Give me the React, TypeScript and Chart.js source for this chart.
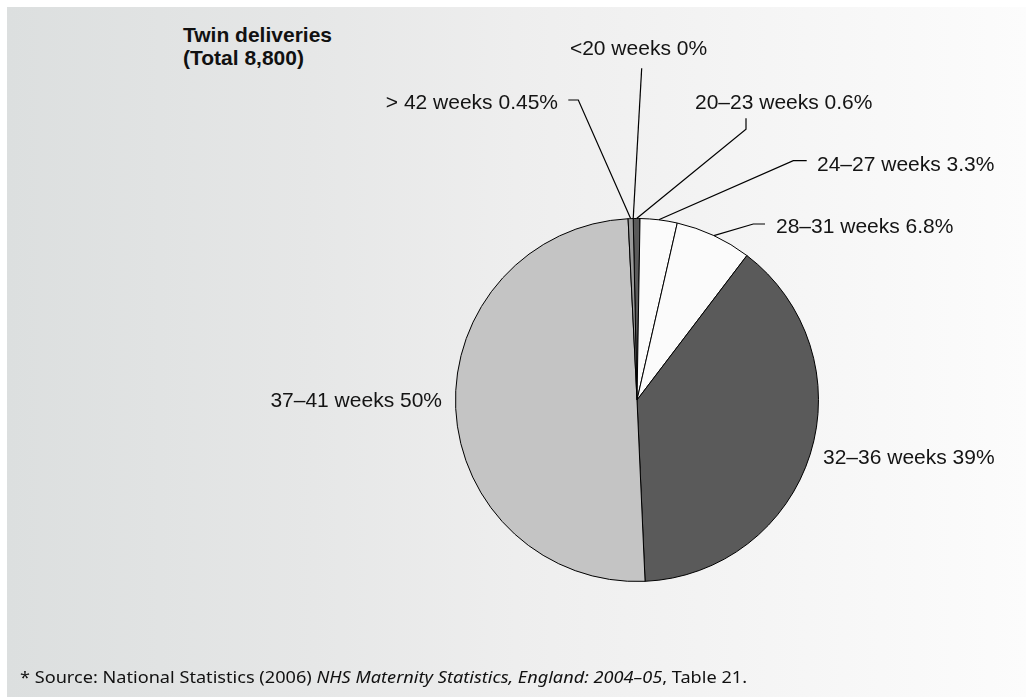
import React, { useEffect, useLayoutEffect, useRef } from "react";
import { Chart, registerables } from "chart.js";

Chart.register(...registerables);

const categories = ["<20 weeks", "20–23 weeks", "24–27 weeks", "28–31 weeks", "32–36 weeks", "37–41 weeks", "> 42 weeks"];
const percentages = [0, 0.6, 3.3, 6.8, 39, 50, 0.45];
const sliceColors = ["#5a5a5a", "#5a5a5a", "#fbfbfb", "#fbfbfb", "#5a5a5a", "#c4c4c4", "#9a9a9a"];
const titleLines = ["Twin deliveries", "(Total 8,800)"];

// label layout, relative to the pie centre (text anchor + optional elbow before the arc)
const labelLayout = [
  { dx: 1.5, dy: -345, align: "center", elbow: [[4.7, -331.7]] },
  { dx: 58, dy: -291, align: "left", elbow: [[109, -281.7], [109, -270.7]] },
  { dx: 180, dy: -229, align: "left", elbow: [[169.7, -239.3], [156.3, -239.3]] },
  { dx: 139, dy: -167, align: "left", elbow: [[128, -176], [116.3, -176]] },
  { dx: 186, dy: 64, align: "left", elbow: null },
  { dx: -195, dy: 7, align: "right", elbow: null },
  { dx: -79, dy: -291, align: "right", elbow: [[-68.7, -300], [-58.7, -300]] },
];

const labelPlugin = {
  id: "leaderLabels",
  afterDraw(chart: any) {
    const ctx = chart.ctx;
    const meta = chart.getDatasetMeta(0);
    ctx.save();
    ctx.font = "21px 'Liberation Sans', Arial, sans-serif";
    ctx.fillStyle = "#141414";
    ctx.strokeStyle = "#000";
    ctx.lineWidth = 1.2;
    ctx.textBaseline = "alphabetic";
    meta.data.forEach((arc: any, i: number) => {
      const p = arc.getProps(["x", "y", "startAngle", "endAngle", "outerRadius"], true);
      const lay = labelLayout[i];
      if (!lay) return;
      const mid = (p.startAngle + p.endAngle) / 2;
      const ax = p.x + Math.cos(mid) * p.outerRadius;
      const ay = p.y + Math.sin(mid) * p.outerRadius;
      if (lay.elbow) {
        ctx.beginPath();
        lay.elbow.forEach((pt: number[], k: number) => {
          const px = p.x + pt[0];
          const py = p.y + pt[1];
          if (k === 0) ctx.moveTo(px, py);
          else ctx.lineTo(px, py);
        });
        ctx.lineTo(ax, ay);
        ctx.stroke();
      }
      ctx.textAlign = lay.align as CanvasTextAlign;
      const txt = `${categories[i]} ${String(percentages[i])}%`;
      ctx.fillText(txt, p.x + lay.dx, p.y + lay.dy);
    });
    ctx.restore();
  },
};

export default function App() {
  const canvasRef = useRef<HTMLCanvasElement | null>(null);
  const footRef = useRef<HTMLSpanElement | null>(null);

  useLayoutEffect(() => {
    const el = footRef.current;
    if (el) {
      el.style.transform = "none";
      const w = el.getBoundingClientRect().width;
      if (w > 0) el.style.transform = `scaleX(${727 / w})`;
    }
  }, []);

  useEffect(() => {
    if (!canvasRef.current) return;
    const chart = new Chart(canvasRef.current, {
      type: "pie",
      data: {
        labels: categories,
        datasets: [
          {
            data: percentages,
            backgroundColor: sliceColors,
            borderColor: "#000",
            borderWidth: 1,
            hoverOffset: 0,
          },
        ],
      },
      options: {
        responsive: false,
        maintainAspectRatio: false,
        animation: false,
        rotation: -1.2,
        events: [],
        layout: { padding: { left: 455, right: 214, top: 218, bottom: 115 } },
        plugins: {
          legend: { display: false },
          tooltip: { enabled: false },
          title: { display: false },
        },
      },
      plugins: [labelPlugin],
    });
    return () => chart.destroy();
  }, []);

  return (
    <div style={{ position: "absolute", left: 0, top: 0, width: 1033, height: 697, background: "#ffffff", overflow: "hidden" }}>
      <div
        style={{
          position: "absolute",
          left: 7,
          top: 7,
          width: 1019,
          height: 690,
          background: "linear-gradient(to right, #dcdfdf 0%, #e6e7e7 30%, #eeeeee 50%, #f5f5f5 75%, #fcfcfc 100%)",
        }}
      />
      <div
        style={{
          position: "absolute",
          left: 183,
          top: 23,
          font: "bold 21px 'Liberation Sans', Arial, sans-serif",
          lineHeight: "23px",
          color: "#111",
          whiteSpace: "nowrap",
        }}
      >
        {titleLines.map((t, i) => (
          <div key={i}>{t}</div>
        ))}
      </div>
      <canvas ref={canvasRef} width={1033} height={697} style={{ position: "absolute", left: 0, top: 0, width: 1033, height: 697 }} />
      <div
        style={{
          position: "absolute",
          left: 20,
          top: 667,
          font: "17px 'Noto Sans', sans-serif",
          lineHeight: "20px",
          color: "#111",
          whiteSpace: "nowrap",
        }}
      >
        <span ref={footRef} style={{ display: "inline-block", transformOrigin: "left center" }}>
          * Source: National Statistics (2006) <i>NHS Maternity Statistics, England: 2004–05</i>, Table 21.
        </span>
      </div>
    </div>
  );
}
